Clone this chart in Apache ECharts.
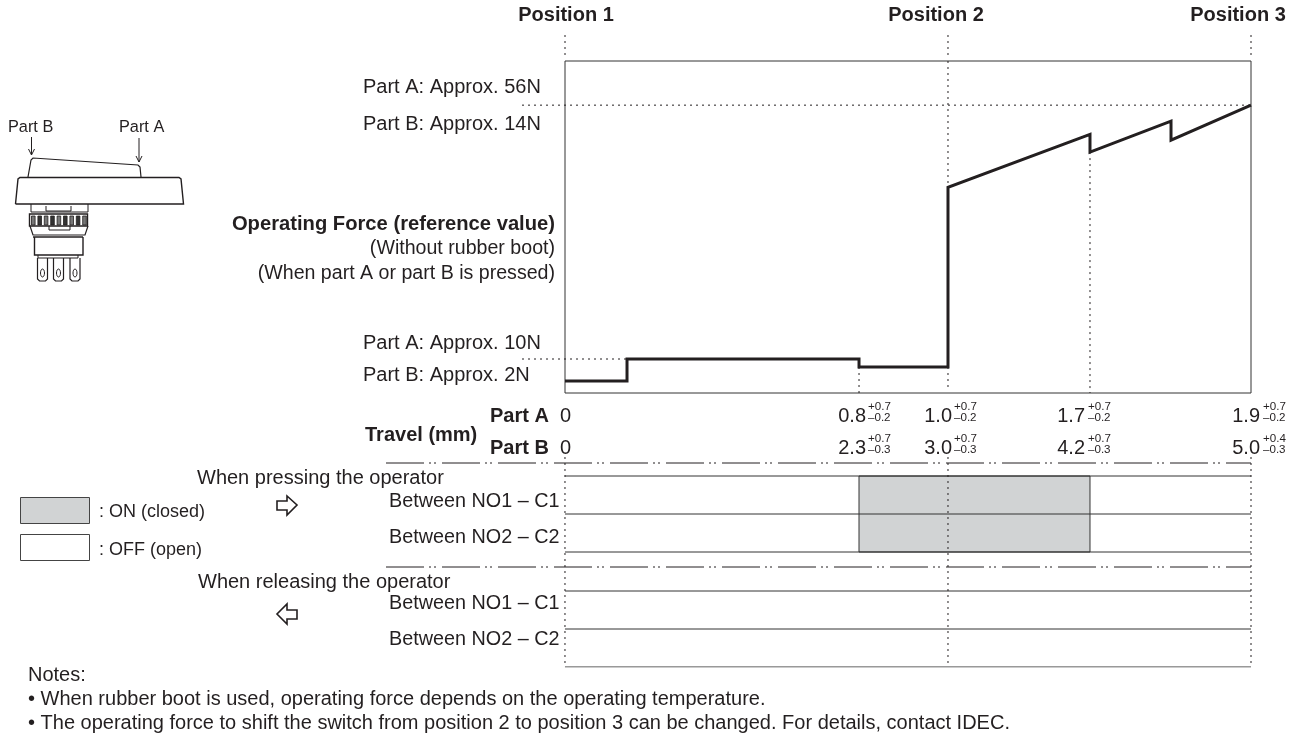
<!DOCTYPE html>
<html><head><meta charset="utf-8">
<style>html,body{margin:0;padding:0;background:#fff}#c{width:1297px;height:736px}</style>
<script src="https://cdn.jsdelivr.net/npm/echarts@6/dist/echarts.min.js"></script></head>
<body><div id="c"></div>
<script>
// Travel position along the stroke (0 = Position 1, 100 = Position 3)
const travelPos = [0, 9.04, 9.04, 42.86, 42.86, 55.83, 55.83, 76.53, 76.53, 88.34, 88.34, 100];
// Operating force, Part A scale (N)
const forceN = [6.0, 6.0, 10, 10, 8.55, 8.55, 41.1, 50.7, 47.5, 53.1, 49.66, 56];
const positions = ['Position 1', 'Position 2', 'Position 3'];
const positionAt = [0, 55.83, 100];
const contactOn = [42.86, 76.53];
const travelPartA = ['0.8', '1.0', '1.7', '1.9'];
const travelPartB = ['2.3', '3.0', '4.2', '5.0'];
const tolPlusA = ['+0.7', '+0.7', '+0.7', '+0.7'];
const tolMinusA = ['\u20130.2', '\u20130.2', '\u20130.2', '\u20130.2'];
const tolPlusB = ['+0.7', '+0.7', '+0.7', '+0.4'];
const tolMinusB = ['\u20130.3', '\u20130.3', '\u20130.3', '\u20130.3'];
const rowLines = [19, 57, 95, 134, 172, 210];
const contacts = ['Between NO1 \u2013 C1', 'Between NO2 \u2013 C2'];
const notes = ['\u2022 When rubber boot is used, operating force depends on the operating temperature.',
  '\u2022 The operating force to shift the switch from position 2 to position 3 can be changed. For details, contact IDEC.'];

const FF = '"Liberation Sans", Arial, Helvetica, sans-serif';
const INK = '#231f20';
const FS = 20;
const seg = (a, b, c, d) => [[a, b], [c, d], [null, null]];
function guides(name, g, pts, dash, width, color) {
  return { name, type: 'line', xAxisIndex: g, yAxisIndex: g, data: pts.flat(), showSymbol: false, silent: true,
    connectNulls: false, lineStyle: { color: color || INK, width: width || 1, type: dash || [2, 4] }, z: 3 };
}
const yMin = 3.84, yMax = 64;
const gfx = [];
function T(text, x, y, size, o) {
  o = o || {};
  gfx.push({ type: 'text', silent: true, z: 10, style: { text, x, y, fill: o.fill || INK, align: o.align || 'left', verticalAlign: 'middle',
    font: (o.bold ? 'bold ' : '') + size + 'px ' + FF } });
}
function P(points, o) {
  o = o || {};
  gfx.push({ type: o.fill ? 'polygon' : 'polyline', silent: true, z: 9, shape: { points },
    style: { stroke: o.stroke || INK, lineWidth: o.w || 1, fill: o.fill || null } });
}
function R(x, y, w, h, fill, stroke, lw) {
  gfx.push({ type: 'rect', silent: true, z: 9, shape: { x, y, width: w, height: h }, style: { fill, stroke: stroke || null, lineWidth: lw || 1 } });
}
// Left column text
T('Part A: Approx. 56N', 363, 87, FS);
T('Part B: Approx. 14N', 363, 124, FS);
T('Operating Force (reference value)', 555, 224, 20.2, { align: 'right', bold: true });
T('(Without rubber boot)', 555, 249, 19.6, { align: 'right' });
T('(When part A or part B is pressed)', 555, 274, 19.6, { align: 'right' });
T('Part A: Approx. 10N', 363, 343, FS);
T('Part B: Approx. 2N', 363, 375, FS);
T('Travel (mm)', 365, 435, FS, { bold: true });
T('Part A', 490, 416, FS, { bold: true });
T('Part B', 490, 448, FS, { bold: true });
T('0', 560, 416, FS);
T('0', 560, 448, FS);
const mainRight = [866, 952, 1085, 1260], supLeft = [868, 954, 1088, 1263];
travelPartA.forEach((v, i) => {
  T(v, mainRight[i], 416, FS, { align: 'right' });
  T(tolPlusA[i], supLeft[i], 407, 11.6);
  T(tolMinusA[i], supLeft[i], 418, 11.6);
  T(travelPartB[i], mainRight[i], 448, FS, { align: 'right' });
  T(tolPlusB[i], supLeft[i], 439, 11.6);
  T(tolMinusB[i], supLeft[i], 450, 11.6);
});
const posCentre = [566, 936, 1238];
positions.forEach((p, i) => T(p, posCentre[i], 15, FS, { align: 'center', bold: true }));
T('When pressing the operator', 197, 478, FS);
T('When releasing the operator', 198, 582, FS);
[502, 538, 604, 640].forEach((y, i) => T(contacts[i % 2], 389, y, 19.8));
R(20.5, 497.5, 69, 26, '#d1d3d4', '#444');
R(20.5, 534.5, 69, 26, '#ffffff', '#444');
T(': ON (closed)', 99, 512, 18);
T(': OFF (open)', 99, 550, 18);
P([[277, 501], [287, 501], [287, 496], [297, 505], [287, 515], [287, 510], [277, 510]], { fill: '#fff', w: 1.6 });
P([[297, 610], [287, 610], [287, 604], [277, 614], [287, 624], [287, 619], [297, 619]], { fill: '#fff', w: 1.6 });
T('Notes:', 28, 675, FS);
T(notes[0], 28, 699, FS);
T(notes[1], 28, 723, FS);
// Switch drawing
T('Part B', 8, 128, 16.3);
T('Part A', 119, 128, 16.3);
P([[31.5, 137], [31.5, 155]]); P([[28.5, 149], [31.5, 155], [34.5, 149]]);
P([[139, 138], [139, 162]]); P([[136, 156], [139, 162], [142, 156]]);
P([[28, 177], [31, 160], [33, 158], [138, 165], [140, 167], [141, 177]], { w: 1.2 });
P([[15.5, 204], [18, 179], [20, 177.5], [179, 177.5], [181, 179], [183.5, 204], [15.5, 204]], { w: 1.4 });
P([[31, 204], [31, 212], [88, 212], [88, 204]]);
P([[46, 206], [46, 211], [71, 211], [71, 206]]);
R(29.5, 214, 58, 12, '#fff', INK, 1.4);
for (let k = 0; k < 9; k++) R(31.5 + k * 6.4, 216, 3.6, 9, k % 2 ? '#333' : '#777', INK, 0.8);
P([[30, 226], [33, 235], [85, 235], [88, 226]], { w: 1.2 });
P([[49, 226], [49, 230], [70, 230], [70, 226]]);
P([[33, 237], [83, 237]], { w: 1.5 });
P([[34.5, 237], [34.5, 255], [83, 255], [83, 237]], { w: 1.4 });
P([[38, 255], [38, 258], [78, 258], [78, 255]]);
[37.5, 53.5, 70].forEach(x => {
  P([[x, 258], [x, 279], [x + 2, 281], [x + 8, 281], [x + 10, 279], [x + 10, 258]], { w: 1.2 });
  gfx.push({ type: 'ellipse', silent: true, z: 9, shape: { cx: x + 5, cy: 273, rx: 2, ry: 4 }, style: { fill: null, stroke: INK, lineWidth: 1 } });
});

const axisOff = { show: false };
const xA = (i, min) => ({ type: 'value', gridIndex: i, min, max: 100, ...axisOff });
const dashDot = [38, 5, 2, 3, 2, 6];
const chart = echarts.init(document.getElementById('c'), null, { renderer: 'canvas' });
chart.setOption({
  animation: false, backgroundColor: '#fff',
  grid: [
    { left: 565, width: 686, top: 61, height: 332, show: true, borderColor: '#333', borderWidth: 1, backgroundColor: 'transparent' },
    { left: 565, width: 686, top: 32, height: 23 },
    { left: 386, width: 865, top: 457, height: 210 },
    { left: 522, width: 729, top: 61, height: 332 }
  ],
  xAxis: [xA(0, 0), xA(1, 0), xA(2, -26.09), xA(3, -6.27)],
  yAxis: [
    { type: 'value', gridIndex: 0, min: yMin, max: yMax, ...axisOff },
    { type: 'value', gridIndex: 1, min: 0, max: 1, ...axisOff },
    { type: 'value', gridIndex: 2, min: 0, max: 210, inverse: true, ...axisOff },
    { type: 'value', gridIndex: 3, min: yMin, max: yMax, ...axisOff }
  ],
  series: [
    { type: 'custom', xAxisIndex: 2, yAxisIndex: 2, silent: true, z: 1, data: [[contactOn[0], contactOn[1], rowLines[0], rowLines[2]]],
      encode: { x: [0, 1], y: [2, 3] },
      renderItem(p, api) {
        const a = api.coord([api.value(0), api.value(2)]), b = api.coord([api.value(1), api.value(3)]);
        return { type: 'rect', shape: { x: a[0], y: a[1], width: b[0] - a[0], height: b[1] - a[1] },
          style: { fill: '#d1d3d4', stroke: '#333', lineWidth: 1 } };
      } },
    guides('rows', 2, rowLines.map(y => seg(0, y, 100, y)), 'solid', 1, '#333'),
    guides('separators', 2, [seg(-26.09, 6, 100, 6), seg(-26.09, 110, 100, 110)], dashDot, 1),
    guides('posLower', 2, positionAt.map(x => seg(x, 0, x, 210)), [2, 4]),
    guides('posUpper', 1, positionAt.map(x => seg(x, 0, x, 1)), [2, 4]),
    guides('force refs', 3, [seg(-6.27, 56, 100, 56), seg(-6.27, 10, 9.04, 10)], [2, 4]),
    guides('travel refs', 0, [seg(42.86, 8.55, 42.86, yMin), seg(55.83, 8.55, 55.83, yMin + 0.5), seg(55.83, yMax, 55.83, 41.1), seg(76.53, 47.5, 76.53, yMin)], [2, 4]),
    { name: 'Operating force', type: 'line', xAxisIndex: 0, yAxisIndex: 0, data: travelPos.map((x, i) => [x, forceN[i]]), showSymbol: false, silent: true, z: 5,
      lineStyle: { color: INK, width: 3, join: 'miter' } }
  ],
  graphic: gfx
});
</script></body></html>
